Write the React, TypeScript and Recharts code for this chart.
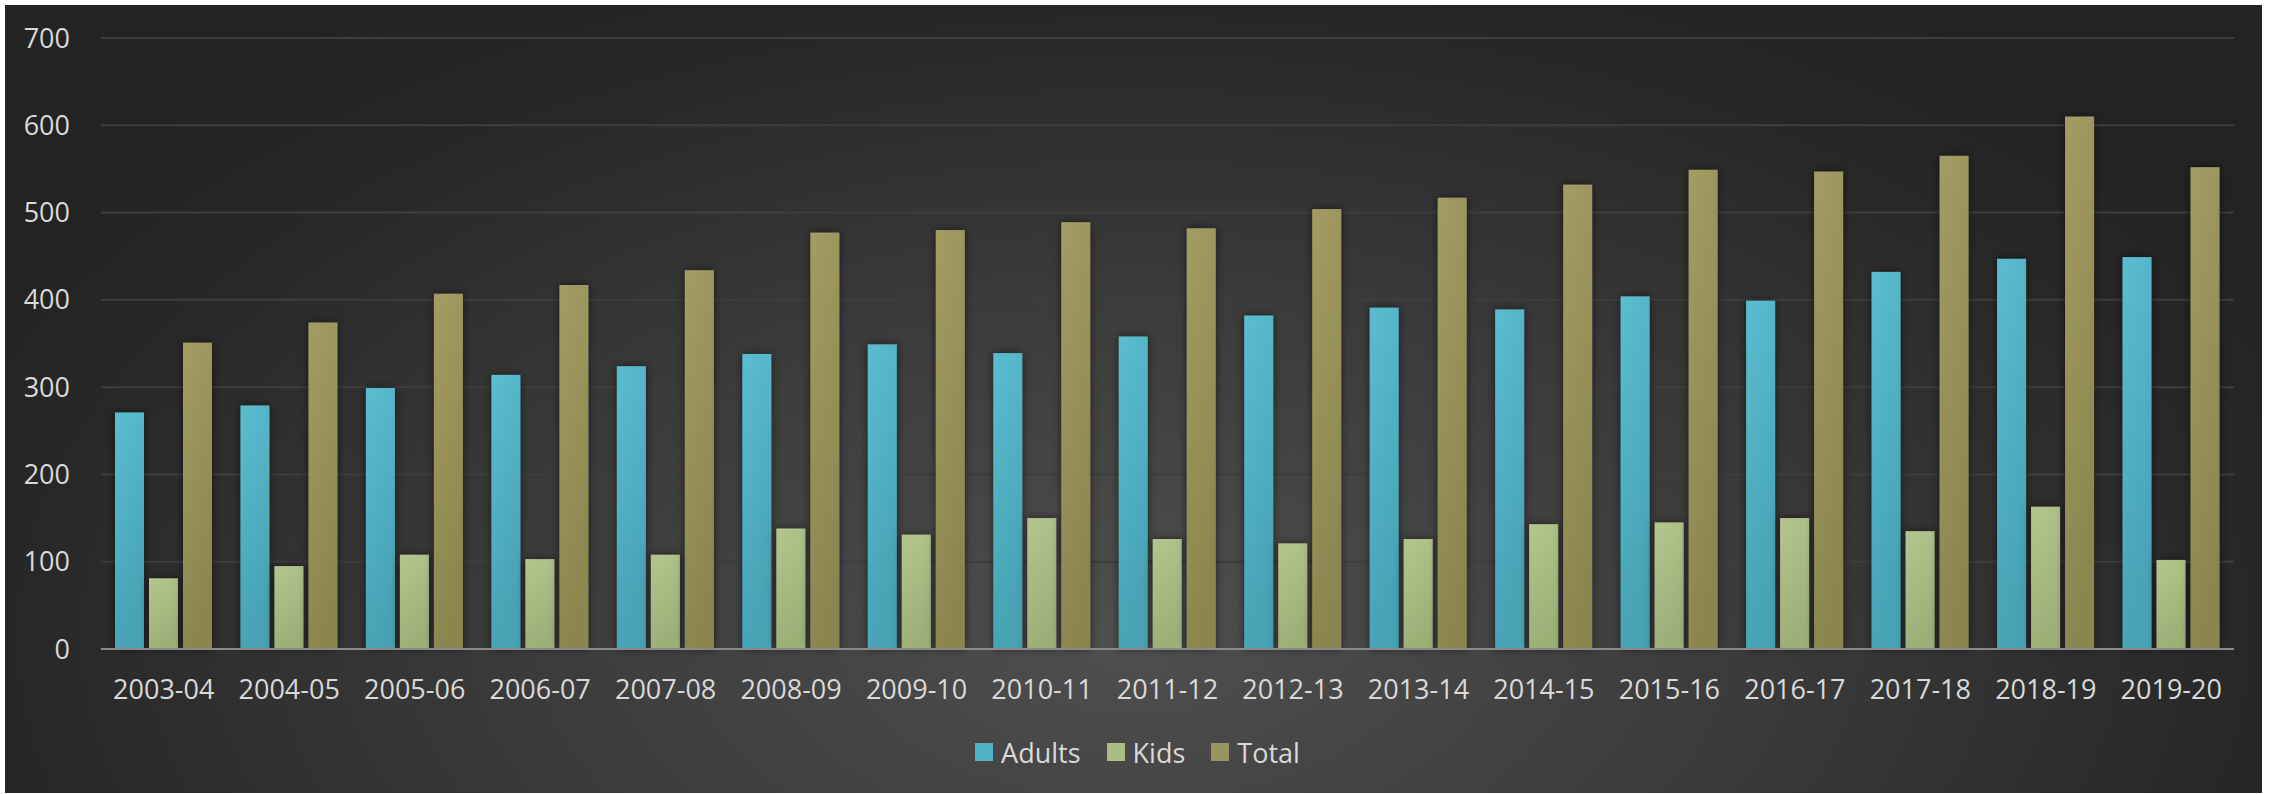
import React from "react"
import { Bar, BarChart, CartesianGrid, Legend, XAxis, YAxis } from "recharts"

const categories = [
  "2003-04", "2004-05", "2005-06", "2006-07", "2007-08", "2008-09",
  "2009-10", "2010-11", "2011-12", "2012-13", "2013-14", "2014-15",
  "2015-16", "2016-17", "2017-18", "2018-19", "2019-20",
]
const adults = [271, 279, 299, 314, 324, 338, 349, 339, 358, 382, 391, 389, 404, 399, 432, 447, 449]
const kids = [81, 95, 108, 103, 108, 138, 131, 150, 126, 121, 126, 143, 145, 150, 135, 163, 102]
const total = [351, 374, 407, 417, 434, 477, 480, 489, 482, 504, 517, 532, 549, 547, 565, 610, 552]
const yTicks = [0, 100, 200, 300, 400, 500, 600, 700]

const series = [
  { key: "Adults", swatch: "#4fb2c6", grad: "gAdults" },
  { key: "Kids", swatch: "#a9bc84", grad: "gKids" },
  { key: "Total", swatch: "#9a9460", grad: "gTotal" },
]

const data = categories.map((name, i) => ({
  name,
  Adults: adults[i],
  Kids: kids[i],
  Total: total[i],
}))

const textColor = "#d9d9d9"
const font = "'Open Sans', sans-serif"

function BarShape(props: any) {
  const { x, y, width, height, grad } = props
  if (!height || height <= 0) return null
  return (
    <rect
      x={x}
      y={y}
      width={width}
      height={height}
      fill={`url(#${grad})`}
      filter="url(#barShadow)"
    />
  )
}

function LegendContent() {
  return (
    <div
      style={{
        display: "flex",
        justifyContent: "center",
        alignItems: "center",
        height: 40,
        paddingLeft: 36,
        fontFamily: font,
        fontSize: 27,
        color: textColor,
      }}
    >
      {series.map((s, i) => (
        <div
          key={s.key}
          style={{ display: "flex", alignItems: "center", marginRight: i < series.length - 1 ? 26 : 0 }}
        >
          <span style={{ display: "inline-block", width: 18, height: 18, background: s.swatch, marginRight: 8 }} />
          <span>{s.key}</span>
        </div>
      ))}
    </div>
  )
}

export default function App() {
  return (
    <div>
      <style>{`body{margin:0;background:#fff}`}</style>
      <svg width={0} height={0} style={{ position: "absolute" }}>
        <defs>
          <linearGradient id="gAdults" x1="0" y1="0" x2="0.3" y2="1">
            <stop offset="0%" stopColor="#5bbdd0" />
            <stop offset="100%" stopColor="#46a2b4" />
          </linearGradient>
          <linearGradient id="gKids" x1="0" y1="0" x2="0.3" y2="1">
            <stop offset="0%" stopColor="#b3c68e" />
            <stop offset="100%" stopColor="#9caf77" />
          </linearGradient>
          <linearGradient id="gTotal" x1="0" y1="0" x2="0.3" y2="1">
            <stop offset="0%" stopColor="#a39c64" />
            <stop offset="100%" stopColor="#8b864f" />
          </linearGradient>
          <filter id="barShadow" x="-50%" y="-20%" width="200%" height="140%">
            <feDropShadow dx="0" dy="0" stdDeviation="4" floodColor="#000" floodOpacity="0.55" />
          </filter>
        </defs>
      </svg>
      <div
        style={{
          position: "absolute",
          left: 5,
          top: 5,
          width: 2257,
          height: 788,
          fontFamily: font,
          background:
            "radial-gradient(ellipse 60% 95% at 50% 80%, #4f4f4f 0%, #3b3b3b 45%, #262626 85%, #232323 100%)",
        }}
      >
        <BarChart
          width={2257}
          height={788}
          data={data}
          margin={{ top: 33, right: 28, left: 0, bottom: 21 }}
          barSize={29}
          barGap={5}
        >
          <CartesianGrid vertical={false} stroke="#3e3e3e" strokeWidth={2} />
          <YAxis
            domain={[0, 700]}
            ticks={yTicks}
            width={96}
            axisLine={false}
            tickLine={false}
            tickSize={0}
            tickMargin={31}
            tick={{ fill: textColor, fontSize: 27, fontFamily: font }}
          />
          {series.map((s) => (
            <Bar
              key={s.key}
              dataKey={s.key}
              fill={s.swatch}
              isAnimationActive={false}
              shape={(p: any) => <BarShape {...p} grad={s.grad} />}
            />
          ))}
          <XAxis
            dataKey="name"
            height={83}
            axisLine={{ stroke: "#8a8a8a", strokeWidth: 2 }}
            tickLine={false}
            tickSize={0}
            tickMargin={31}
            interval={0}
            tick={{ fill: textColor, fontSize: 27, fontFamily: font }}
          />
          <Legend verticalAlign="bottom" content={<LegendContent />} />
        </BarChart>
      </div>
    </div>
  )
}
